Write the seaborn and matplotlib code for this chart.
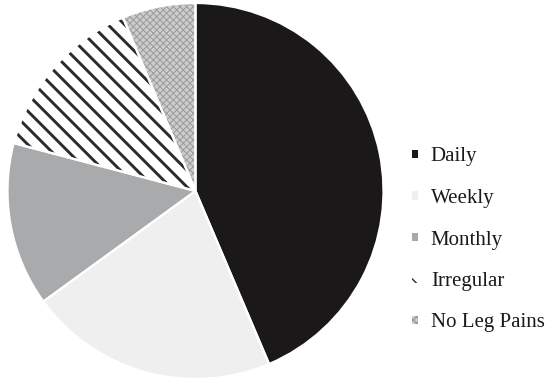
import matplotlib
matplotlib.use("Agg")
import matplotlib.pyplot as plt
from matplotlib.patches import Patch
import seaborn as sns

categories = ["Daily", "Weekly", "Monthly", "Irregular", "No Leg Pains"]
values = [43.6, 21.4, 14.1, 14.6, 6.3]

face_colors = ["#1b1819", "#efefef", "#a9aaac", "#ffffff", "#cdcdcd"]
hatches = [None, None, None, "\\\\", "xxxxx"]
hatch_colors = ["none", "none", "none", "#2b2b2b", "#9a9a9a"]
hatch_widths = [1.0, 1.0, 1.0, 2.1, 0.7]

sns.set_theme(style="white")
plt.rcParams["font.family"] = ["Liberation Serif", "DejaVu Serif"]

DPI = 100
fig = plt.figure(figsize=(549 / DPI, 380 / DPI), dpi=DPI)
fig.patch.set_facecolor("white")

cx, cy, r = 195.5, 380 - 191, 188
ax = fig.add_axes([(cx - r) / 549, (cy - r) / 380, 2 * r / 549, 2 * r / 380])

# base fills
ax.pie(values, colors=face_colors, startangle=90, counterclock=False,
       radius=1, wedgeprops=dict(linewidth=0))
# hatch overlay
wedges, _ = ax.pie(values, startangle=90, counterclock=False, radius=1,
                   wedgeprops=dict(linewidth=0, facecolor="none"))
for w, h, hc, hw in zip(wedges, hatches, hatch_colors, hatch_widths):
    w.set_facecolor("none")
    if h is None:
        w.set_visible(False)
        continue
    w.set_edgecolor(hc)
    w.set_hatch(h)
    try:
        w.set_hatch_linewidth(hw)
    except Exception:
        pass
    w.set_linewidth(0)
# white separators
ax.pie(values, startangle=90, counterclock=False, radius=1,
       wedgeprops=dict(linewidth=1.6, edgecolor="white", facecolor="none"))
ax.set_xlim(-1, 1)
ax.set_ylim(-1, 1)
ax.axis("off")

handles = []
for fc, h, hc, hw in zip(face_colors, hatches, hatch_colors, hatch_widths):
    p = Patch(facecolor=fc, edgecolor=hc if h else fc, linewidth=0, hatch=h)
    if h:
        try:
            p.set_hatch_linewidth(hw)
        except Exception:
            pass
    handles.append(p)

leg = fig.legend(handles, categories, loc="center left",
                 bbox_to_anchor=(412 / 549, (380 - 240) / 380),
                 frameon=False, fontsize=15, handlelength=0.28,
                 handleheight=0.28, handletextpad=0.62, labelspacing=1.08,
                 borderpad=0, borderaxespad=0)
for t in leg.get_texts():
    t.set_color("#1a1a1a")

fig.savefig("out.png", dpi=DPI, facecolor="white")
